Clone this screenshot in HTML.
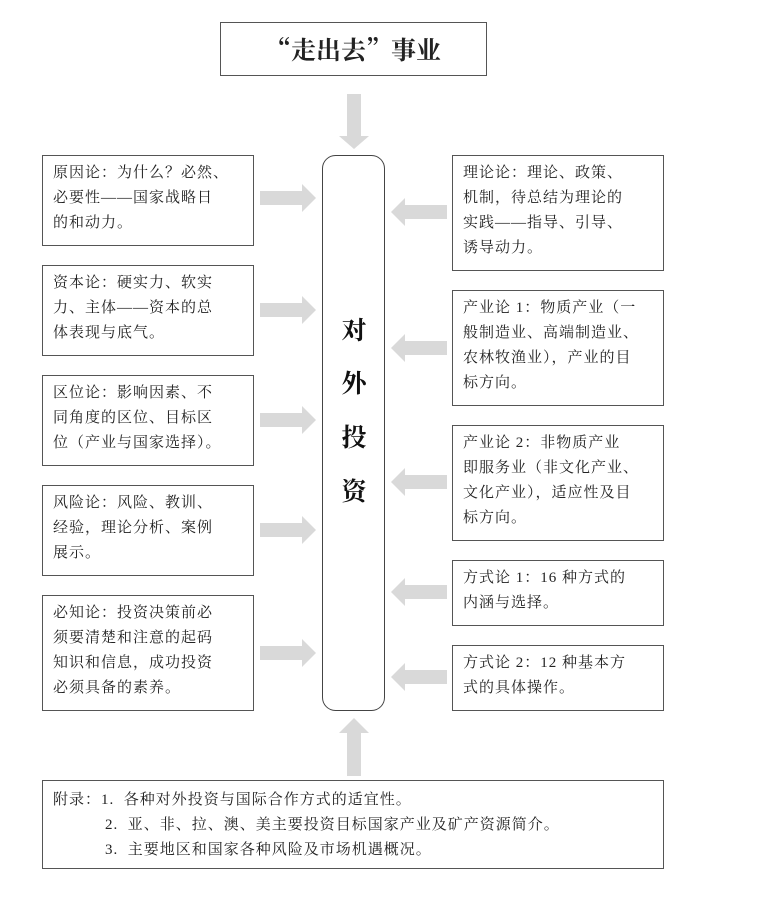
<!DOCTYPE html>
<html><head><meta charset="utf-8"><style>
body{margin:0;width:768px;height:922px;background:#fff;position:relative;font-family:"Liberation Serif","Noto Serif CJK SC",serif;color:#222;overflow:hidden}
.b{position:absolute;border:1px solid #555;box-sizing:border-box;padding:5px 2px 0 10px;font-size:15px;line-height:25px;white-space:nowrap;letter-spacing:1px}
.l{left:42px;width:212px}.r{left:452px;width:212px}
svg{position:absolute;left:0;top:0}
</style></head><body>
<div class="b" style="left:220px;top:22px;width:267px;height:54px;padding:0;text-align:center;line-height:52px;font-size:25px;font-weight:bold;letter-spacing:0;font-family:'Noto Serif CJK SC',serif">“走出去”事业</div>
<svg width="768" height="922">
<g fill="#d9d9d9">
<polygon points="347,94 361,94 361,136 369,136 354,149 339,136 347,136"/>
<polygon points="347,776 361,776 361,733 369,733 354,718 339,733 347,733"/>
<g id="la">
<polygon points="260,191 302,191 302,184 316,198 302,212 302,205 260,205"/>
</g>
<use href="#la" y="112"/><use href="#la" y="222"/><use href="#la" y="332"/><use href="#la" y="455"/>
<g id="ra">
<polygon points="447,205 405,205 405,198 391,212 405,226 405,219 447,219"/>
</g>
<use href="#ra" y="136"/><use href="#ra" y="270"/><use href="#ra" y="380"/><use href="#ra" y="465"/>
</g>
<rect x="322.5" y="155.5" width="62" height="555" rx="13" fill="none" stroke="#444" stroke-width="1"/>
<g font-family="Noto Serif CJK SC,serif" font-weight="bold" font-size="25" text-anchor="middle" fill="#111">
<text x="354" y="339">对</text><text x="354" y="392">外</text><text x="354" y="446">投</text><text x="354" y="500">资</text>
</g>
</svg>
<div class="b l" style="top:155px;height:91px">原因论：为什么？必然、<br>必要性——国家战略日<br>的和动力。</div>
<div class="b l" style="top:265px;height:91px">资本论：硬实力、软实<br>力、主体——资本的总<br>体表现与底气。</div>
<div class="b l" style="top:375px;height:91px">区位论：影响因素、不<br>同角度的区位、目标区<br>位（产业与国家选择）。</div>
<div class="b l" style="top:485px;height:91px">风险论：风险、教训、<br>经验，理论分析、案例<br>展示。</div>
<div class="b l" style="top:595px;height:116px">必知论：投资决策前必<br>须要清楚和注意的起码<br>知识和信息，成功投资<br>必须具备的素养。</div>
<div class="b r" style="top:155px;height:116px">理论论：理论、政策、<br>机制，待总结为理论的<br>实践——指导、引导、<br>诱导动力。</div>
<div class="b r" style="top:290px;height:116px">产业论 1：物质产业（一<br>般制造业、高端制造业、<br>农林牧渔业），产业的目<br>标方向。</div>
<div class="b r" style="top:425px;height:116px">产业论 2：非物质产业<br>即服务业（非文化产业、<br>文化产业），适应性及目<br>标方向。</div>
<div class="b r" style="top:560px;height:66px">方式论 1：16 种方式的<br>内涵与选择。</div>
<div class="b r" style="top:645px;height:66px">方式论 2：12 种基本方<br>式的具体操作。</div>
<div class="b" style="left:42px;top:780px;width:622px;height:89px;padding-top:7px">附录：1.&nbsp; 各种对外投资与国际合作方式的适宜性。<br><span style="padding-left:52px">2.&nbsp; 亚、非、拉、澳、美主要投资目标国家产业及矿产资源简介。</span><br><span style="padding-left:52px">3.&nbsp; 主要地区和国家各种风险及市场机遇概况。</span></div>
</body></html>
